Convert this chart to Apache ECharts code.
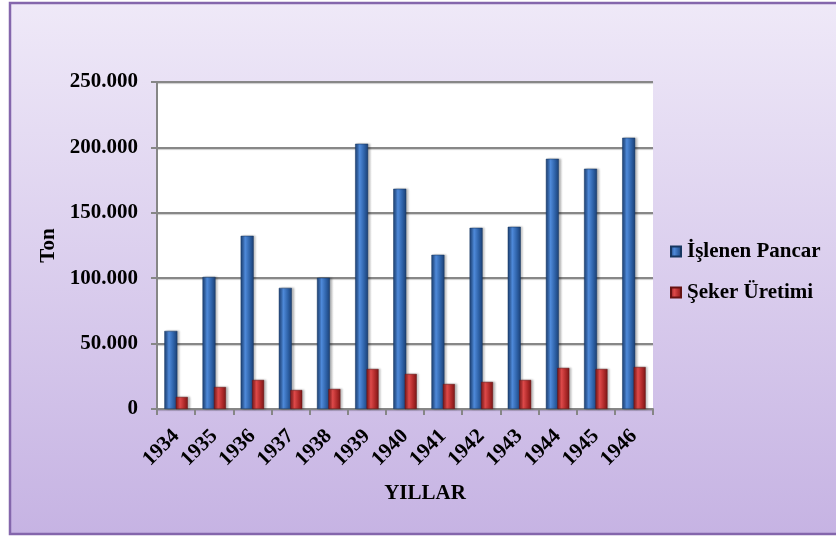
<!DOCTYPE html>
<html>
<head>
<meta charset="utf-8">
<script src="https://cdn.jsdelivr.net/npm/echarts@6/dist/echarts.min.js"></script>
<style>
html,body{margin:0;padding:0;background:#fff;}
#chart{width:836px;height:538px;}
</style>
</head>
<body>
<div id="chart"></div>
<script>
const years = ['1934','1935','1936','1937','1938','1939','1940','1941','1942','1943','1944','1945','1946'];
const islenenPancar = [59700, 101000, 132400, 92600, 100300, 202800, 168400, 117900, 138500, 139300, 191300, 183700, 207400];
const sekerUretimi = [9200, 16800, 22200, 14500, 15300, 30600, 26800, 19100, 20700, 22200, 31400, 30600, 32100];
const seriesNames = ['İşlenen Pancar', 'Şeker Üretimi'];
const yTicks = { min: 0, max: 250000, interval: 50000 };

const font = '"Liberation Serif", "Times New Roman", serif';

function fmt(v) {
  if (v === 0) return '0';
  return String(v).replace(/\B(?=(\d{3})+(?!\d))/g, '.');
}

function barGrad(dark, mid, light) {
  return new echarts.graphic.LinearGradient(0, 0, 1, 0, [
    { offset: 0, color: dark },
    { offset: 0.35, color: light },
    { offset: 0.7, color: mid },
    { offset: 1, color: dark }
  ]);
}

const chart = echarts.init(document.getElementById('chart'), null, { renderer: 'canvas' });
chart.setOption({
  animation: false,
  backgroundColor: '#ffffff',
  graphic: [{
    type: 'rect',
    z: -10,
    shape: { x: 10, y: 3, width: 840, height: 531 },
    style: {
      fill: new echarts.graphic.LinearGradient(0, 0, 0, 1, [
        { offset: 0, color: '#EFE9F8' },
        { offset: 1, color: '#C6B3E3' }
      ]),
      stroke: '#8466AC',
      lineWidth: 2.5
    }
  }],
  grid: {
    left: 157, right: 183, top: 82, bottom: 129,
    show: true, backgroundColor: '#ffffff', borderWidth: 0
  },
  legend: {
    orient: 'vertical',
    left: 665,
    top: 236,
    itemWidth: 10,
    itemHeight: 10,
    itemGap: 20,
    icon: 'rect',
    textStyle: { fontFamily: font, fontWeight: 'bold', fontSize: 21, color: '#000', padding: [0, 0, 0, 1] },
    data: seriesNames
  },
  xAxis: {
    type: 'category',
    data: years,
    name: 'YILLAR',
    nameLocation: 'middle',
    nameGap: 74,
    nameTextStyle: { fontFamily: font, fontWeight: 'bold', fontSize: 21, color: '#000', padding: [0, 0, 0, 40] },
    axisLine: { lineStyle: { color: '#868686', width: 2 } },
    axisTick: { show: true, alignWithLabel: false, length: 6, lineStyle: { color: '#868686', width: 2 } },
    axisLabel: { rotate: 45, margin: 24, fontFamily: font, fontWeight: 'bold', fontSize: 21, color: '#000', interval: 0 }
  },
  yAxis: {
    type: 'value',
    min: yTicks.min, max: yTicks.max, interval: yTicks.interval,
    name: 'Ton',
    nameLocation: 'middle',
    nameGap: 97,
    nameRotate: 90,
    nameTextStyle: { fontFamily: font, fontWeight: 'bold', fontSize: 21, color: '#000' },
    axisLine: { show: true, lineStyle: { color: '#868686', width: 2 } },
    axisTick: { show: true, length: 6, lineStyle: { color: '#868686', width: 2 } },
    splitLine: { show: true, lineStyle: { color: '#878787', width: 2, shadowColor: 'rgba(0,0,0,0.2)', shadowOffsetY: 1, shadowBlur: 1 } },
    axisLabel: { margin: 19, fontFamily: font, fontWeight: 'bold', fontSize: 21, color: '#000', formatter: fmt }
  },
  series: [
    {
      name: seriesNames[0],
      type: 'bar',
      data: islenenPancar,
      barWidth: 13,
      barGap: '-12%',
      itemStyle: {
        color: barGrad('#1B3F73', '#2E62A8', '#4F8ADA'),
        borderColor: '#173660', borderWidth: 0.5,
        shadowColor: 'rgba(0,0,0,0.25)', shadowOffsetX: 2, shadowBlur: 2
      }
    },
    {
      name: seriesNames[1],
      type: 'bar',
      data: sekerUretimi,
      barWidth: 12,
      itemStyle: {
        color: barGrad('#7A1717', '#B02A2A', '#DE4A4A'),
        borderColor: '#661212', borderWidth: 0.5,
        shadowColor: 'rgba(0,0,0,0.25)', shadowOffsetX: 2, shadowBlur: 2
      }
    }
  ]
});
</script>
</body>
</html>
